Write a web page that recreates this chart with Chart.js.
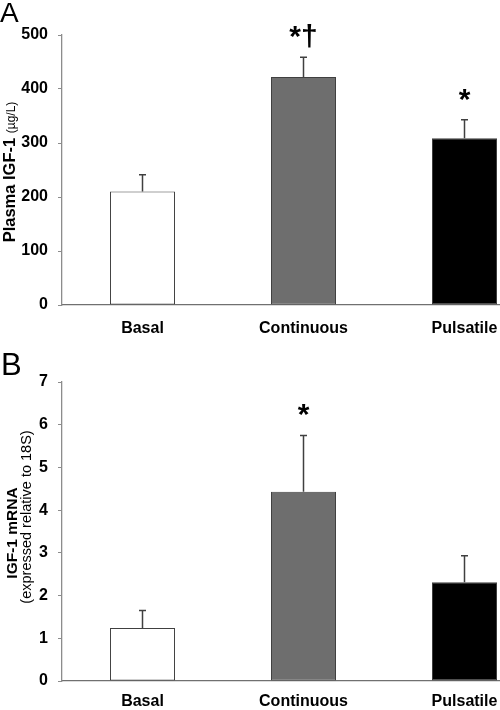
<!DOCTYPE html>
<html>
<head>
<meta charset="utf-8">
<script src="https://cdn.jsdelivr.net/npm/chart.js@4"></script>
<style>
  body { margin: 0; background: #fff; }
  .wrap { position: relative; width: 500px; height: 710px; overflow: hidden; }
  canvas { position: absolute; left: 0; }
  #chartA { top: 0; }
  #chartB { top: 345px; }
</style>
</head>
<body>
<div class="wrap">
  <canvas id="chartA" width="546" height="345"></canvas>
  <canvas id="chartB" width="546" height="365"></canvas>
</div>
<script>
// categories and colours shared by both panels
const categories = ['Basal', 'Continuous', 'Pulsatile'];
const barColors = ['#ffffff', '#6e6e6e', '#000000'];

// panel A - plasma IGF-1 (ug/L)
const plasmaIgf = [210, 422, 309];
const plasmaIgfSem = [31, 37, 34];
const plasmaMarks = ['', '*\u2020', '*'];
const plasmaTicks = [0, 100, 200, 300, 400, 500];

// panel B - IGF-1 mRNA relative to 18S
const mrnaIgf = [1.24, 4.43, 2.31];
const mrnaIgfSem = [0.41, 1.32, 0.62];
const mrnaMarks = ['', '*', ''];
const mrnaTicks = [0, 1, 2, 3, 4, 5, 6, 7];

const FONT = '"Liberation Sans", Arial, sans-serif';
Chart.defaults.font.family = FONT;
Chart.defaults.color = '#000';

// error bars + significance marks, read from the dataset
const errorBars = {
  id: 'errorBars',
  afterDatasetsDraw(chart) {
    const ctx = chart.ctx;
    const ds = chart.data.datasets[0];
    const meta = chart.getDatasetMeta(0);
    const y = chart.scales.y;
    ctx.save();
    ctx.strokeStyle = '#404040';
    ctx.lineWidth = 1.5;
    ctx.fillStyle = '#000';
    meta.data.forEach((bar, i) => {
      const top = y.getPixelForValue(ds.data[i] + ds.sem[i]);
      ctx.beginPath();
      ctx.moveTo(bar.x, bar.y);
      ctx.lineTo(bar.x, top);
      ctx.moveTo(bar.x - 3.5, top);
      ctx.lineTo(bar.x + 3.5, top);
      ctx.stroke();
      if (ds.marks[i]) {
        ctx.font = 'bold 30px ' + FONT;
        ctx.textAlign = 'center';
        ctx.textBaseline = 'alphabetic';
        ctx.fillText(ds.marks[i], bar.x, top - 11);
      }
    });
    ctx.restore();
  }
};

// panel letter and rotated y titles (mixed fonts)
const panelText = {
  id: 'panelText',
  afterDraw(chart, args, opts) {
    const ctx = chart.ctx;
    ctx.save();
    ctx.fillStyle = '#000';
    ctx.textBaseline = 'alphabetic';
    ctx.textAlign = 'left';
    ctx.font = opts.letterSize + 'px ' + FONT;
    ctx.fillText(opts.letter, opts.letterX, opts.letterY);
    opts.lines.forEach(line => {
      ctx.save();
      ctx.translate(line.x, line.y);
      ctx.rotate(-Math.PI / 2);
      let total = 0;
      line.parts.forEach(p => { ctx.font = p.font; total += ctx.measureText(p.text).width; });
      let pos = -total / 2;
      line.parts.forEach(p => {
        ctx.font = p.font;
        ctx.fillText(p.text, pos, 0);
        pos += ctx.measureText(p.text).width;
      });
      ctx.restore();
    });
    ctx.restore();
  }
};

function createChart(canvas, values, sem, marks, tickValues, layout, text) {
  return new Chart(canvas, {
    type: 'bar',
    data: {
      labels: categories,
      datasets: [{
        data: values,
        sem: sem,
        marks: marks,
        backgroundColor: barColors,
        borderColor: '#404040',
        borderWidth: 1,
        borderSkipped: false,
        barPercentage: 0.404,
        categoryPercentage: 1
      }]
    },
    options: {
      responsive: false,
      animation: false,
      layout: { padding: { top: layout.top, right: 1, left: 0, bottom: 0 } },
      plugins: {
        legend: { display: false },
        tooltip: { enabled: false },
        panelText: text
      },
      scales: {
        x: {
          offset: true,
          grid: { display: false, drawTicks: false },
          border: { display: true, color: '#707070', width: 1.3 },
          ticks: { font: { size: 16, weight: 'bold' }, padding: layout.labelPad, color: '#000' },
          afterFit: s => { s.height = layout.xHeight; }
        },
        y: {
          min: tickValues[0],
          max: tickValues[tickValues.length - 1],
          grid: { drawOnChartArea: false, drawTicks: true, tickLength: 4, tickColor: '#8c8c8c', color: '#8c8c8c' },
          border: { display: true, color: '#8c8c8c', width: 1.3 },
          ticks: { font: { size: 16, weight: 'bold' }, padding: 10, color: '#000' },
          afterBuildTicks: s => { s.ticks = tickValues.map(v => ({ value: v })); },
          afterFit: s => { s.width = 62; }
        }
      }
    },
    plugins: [errorBars, panelText]
  });
}

createChart(document.getElementById('chartA'), plasmaIgf, plasmaIgfSem, plasmaMarks, plasmaTicks,
  { top: 35, xHeight: 40, labelPad: 14 },
  {
    letter: 'A', letterSize: 28, letterX: 0, letterY: 22,
    lines: [{ x: 15, y: 172, parts: [
      { text: 'Plasma IGF-1 ', font: 'bold 16.5px ' + FONT },
      { text: '(\u00b5g/L)', font: '12px ' + FONT }
    ] }]
  });

createChart(document.getElementById('chartB'), mrnaIgf, mrnaIgfSem, mrnaMarks, mrnaTicks,
  { top: 37, xHeight: 29, labelPad: 11 },
  {
    letter: 'B', letterSize: 31, letterX: 1, letterY: 30,
    lines: [
      { x: 17, y: 188, parts: [{ text: 'IGF-1 mRNA', font: 'bold 15.5px ' + FONT }] },
      { x: 31, y: 172, parts: [{ text: '(expressed relative to 18S)', font: '14.5px ' + FONT }] }
    ]
  });
</script>
</body>
</html>
